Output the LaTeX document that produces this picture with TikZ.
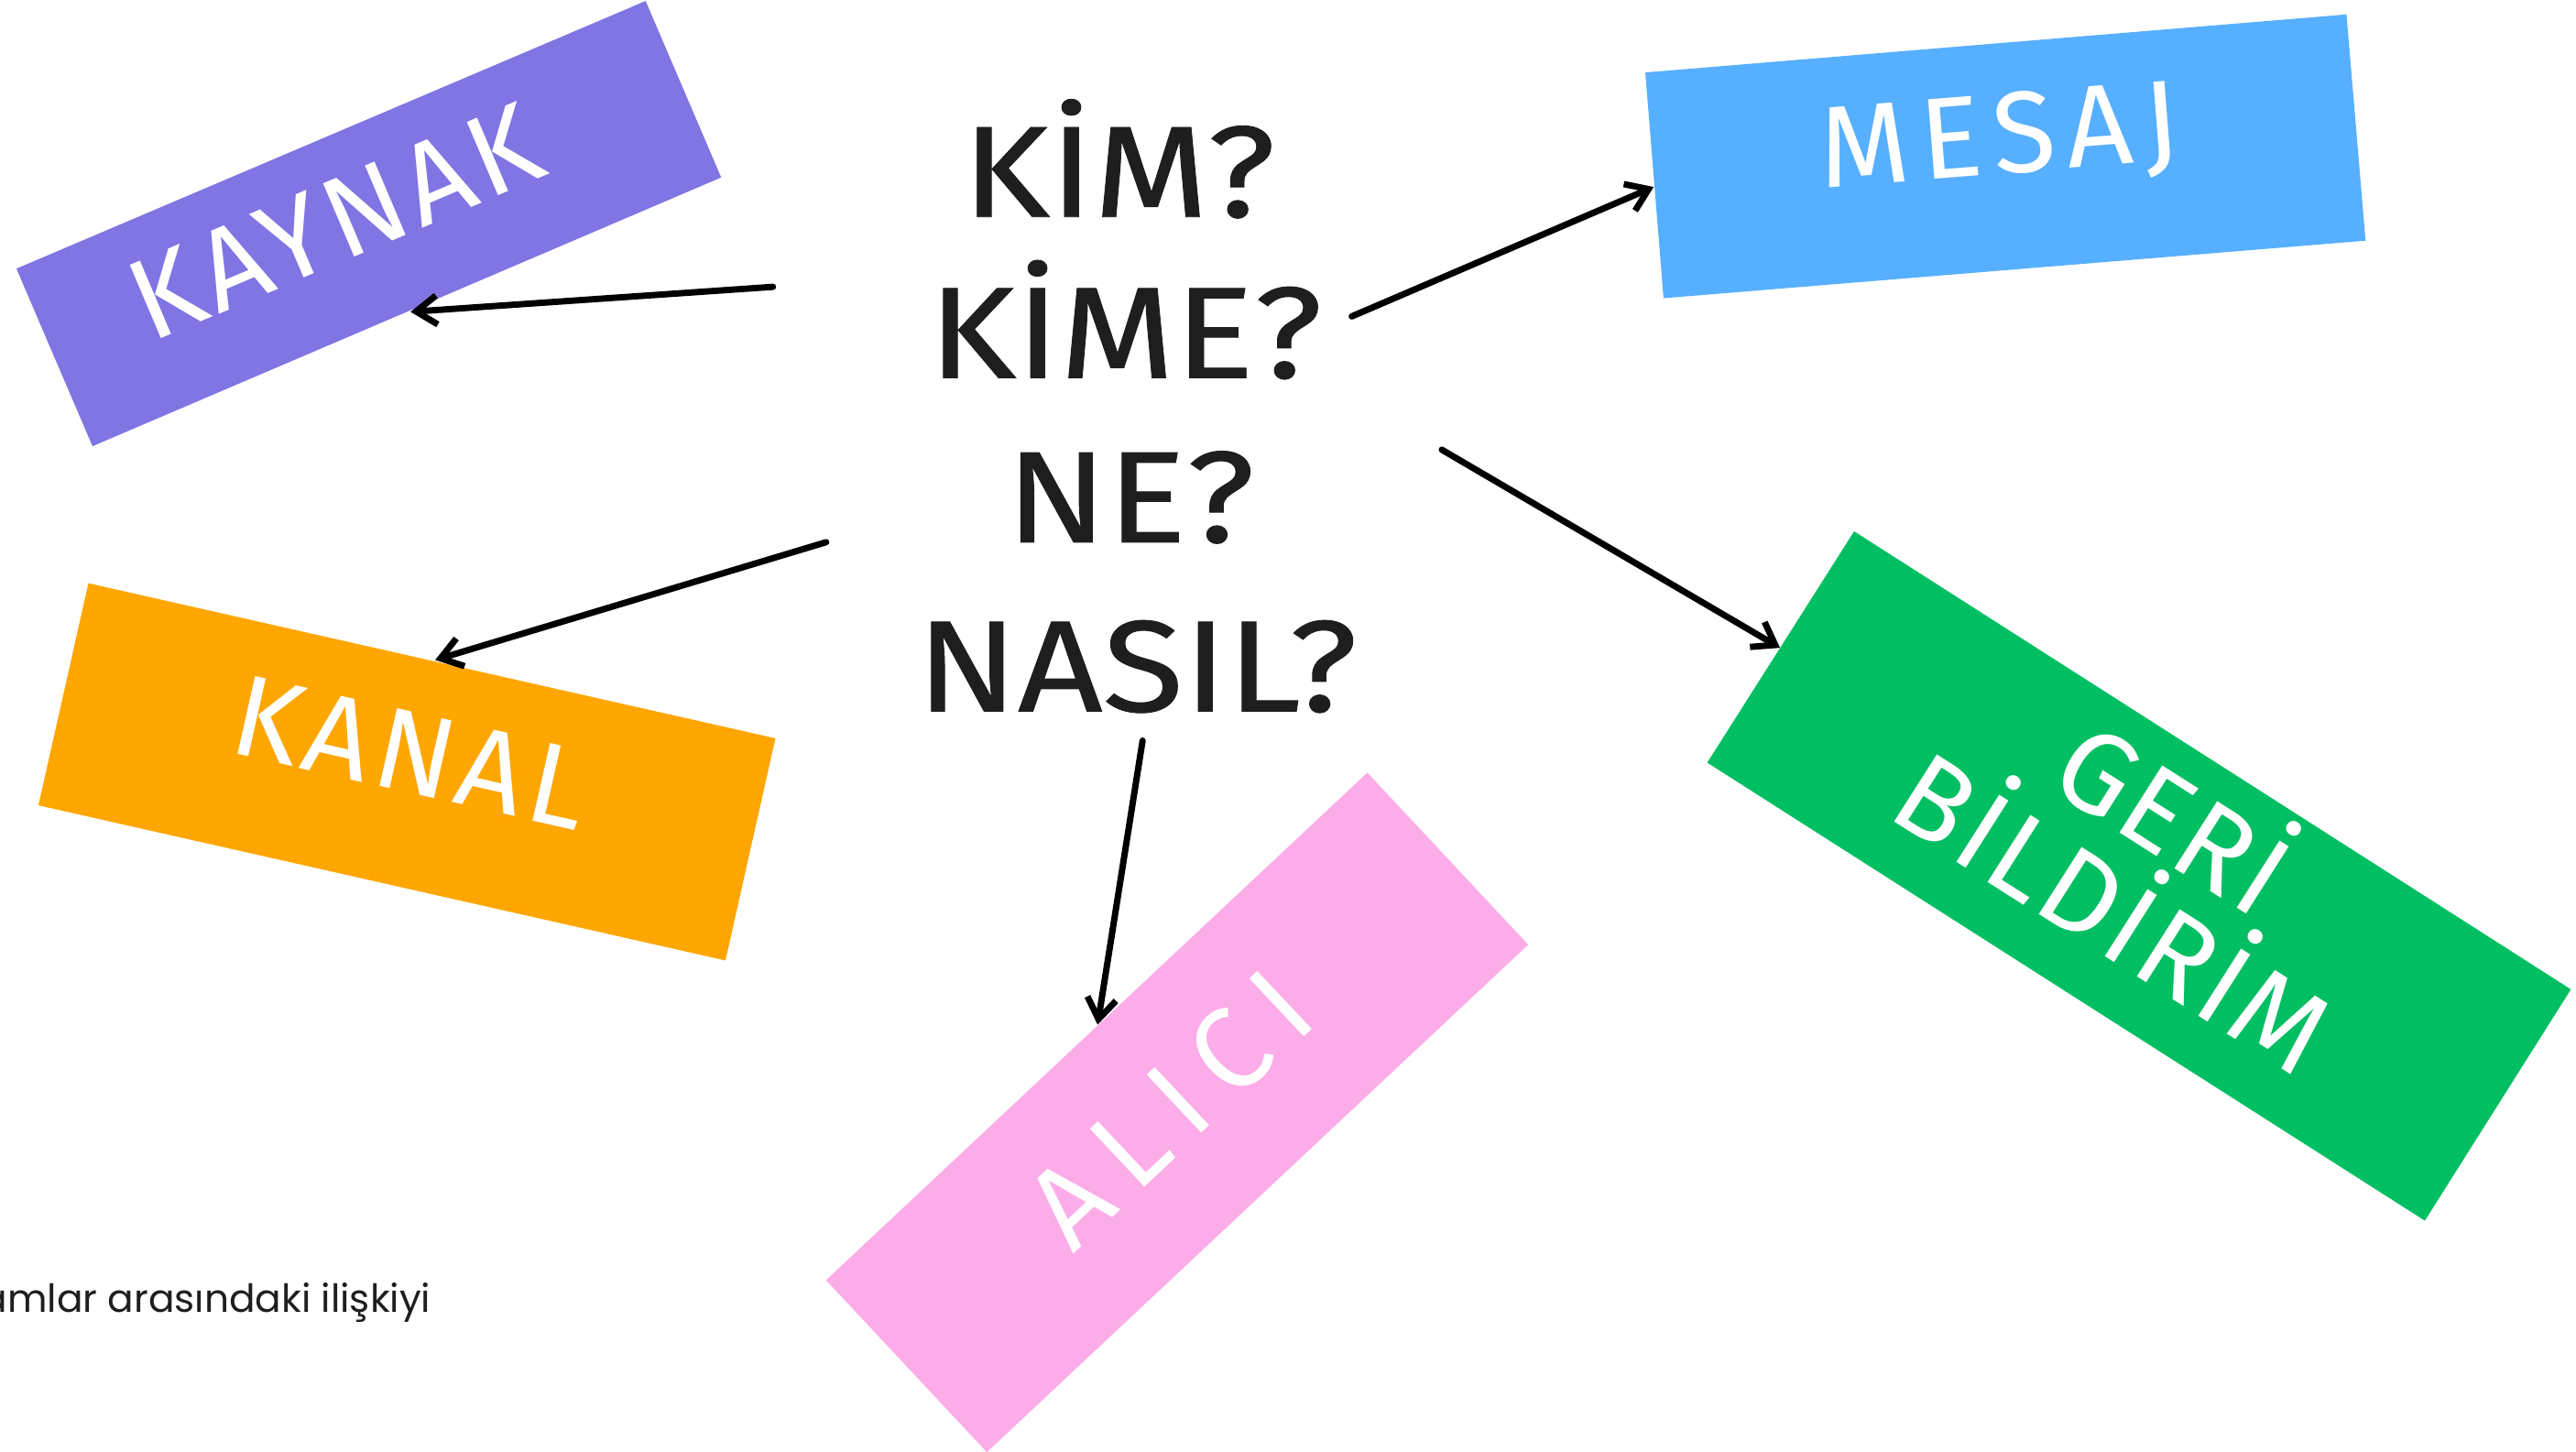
\documentclass[tikz,border=0pt]{standalone}
\usepackage{fontspec}
\setmainfont{Fira Sans}
\newfontfamily\notefont{Poppins}
\newfontfamily\qfont[FakeStretch=1.14,FakeBold=0.6]{Fira Sans}
\usetikzlibrary{arrows.meta}
\definecolor{cpurple}{HTML}{8075E3}
\definecolor{cblue}{HTML}{57AFFF}
\definecolor{corange}{HTML}{FFA600}
\definecolor{cpink}{HTML}{FDACEA}
\definecolor{cgreen}{HTML}{00BF63}
\definecolor{qdark}{HTML}{1E1E1E}
\begin{document}
\begin{tikzpicture}[x=0.01cm,y=-0.01cm,
  arr/.style={-{Straight Barb[length=3.6pt,width=5pt]}, line width=1.1pt, line cap=round, draw=black},
  lbl/.style={text=white, font=\fontsize{20}{18.5}\selectfont\addfontfeatures{LetterSpace=5}, inner sep=0pt, align=center},
  qtext/.style={text=qdark, font=\qfont\fontsize{22.5}{28}\selectfont, inner sep=0pt, anchor=base}]
\useasboundingbox (0,0) rectangle (1568,883.26);
\clip (0,0) rectangle (1568,883.26);
\fill[white] (0,0) rectangle (1568,883.26);

% coloured boxes
\fill[cpurple] (10,163.5) -- (393,0.6) -- (439,108) -- (56.3,271.6) -- cycle;
\fill[cblue] (1001.5,44.1) -- (1428.3,8.8) -- (1439.9,146.5) -- (1012.6,181.5) -- cycle;
\fill[corange] (53.8,355) -- (472,449.4) -- (441.6,584.6) -- (23.4,490.2) -- cycle;
\fill[cpink] (502.8,779.2) -- (832.3,470.3) -- (930.2,575) -- (600.7,883.9) -- cycle;
\fill[cgreen] (1128.6,323.4) -- (1564.9,602.2) -- (1476,743) -- (1039.2,464.2) -- cycle;

% labels
\node[lbl, rotate=23] (kaynak) at (204,135) {KAYNAK};
\node[lbl, rotate=4.5, font=\fontsize{20}{18.5}\selectfont\addfontfeatures{LetterSpace=10}] (mesaj) at (1217,86) {MESAJ};
\node[lbl, rotate=-12.7] (kanal) at (250,458) {KANAL};
\node[lbl, rotate=43.2, font=\fontsize{20}{18.5}\selectfont\addfontfeatures{LetterSpace=18}] (alici) at (712,675) {ALICI};
\node[lbl, rotate=-32.5, font=\fontsize{20}{17}\selectfont\addfontfeatures{LetterSpace=3}] (geri) at (1308,521) {GERİ\\BİLDİRİM};

% central questions
\node[qtext] (q1) at (681,132) {KİM?};
\node[qtext] (q2) at (685,230) {KİME?};
\node[qtext] (q3) at (688,330) {NE?};
\node[qtext] (q4) at (692,433) {NASIL?};

% arrow end points
\coordinate (s1) at (470.5,174.6);
\coordinate (t1) at (249.9,189.8);
\coordinate (s2) at (822.8,192.6);
\coordinate (t2) at (1006.6,113.8);
\coordinate (s3) at (502.9,330);
\coordinate (t3) at (264.9,401.7);
\coordinate (s4) at (877.6,273.7);
\coordinate (t4) at (1083.5,394.3);
\coordinate (s5) at (695.5,450.8);
\coordinate (t5) at (668.1,623.7);

\draw[arr] (s1) -- (t1);
\draw[arr] (s2) -- (t2);
\draw[arr] (s3) -- (t3);
\draw[arr] (s4) -- (t4);
\draw[arr] (s5) -- (t5);

% footnote text
\node[anchor=base west, inner sep=0pt, text=qdark, font=\notefont\fontsize{6.7}{8}\selectfont] (note) at (-12,798.6) {amlar arasındaki ilişkiyi};
\end{tikzpicture}
\end{document}
